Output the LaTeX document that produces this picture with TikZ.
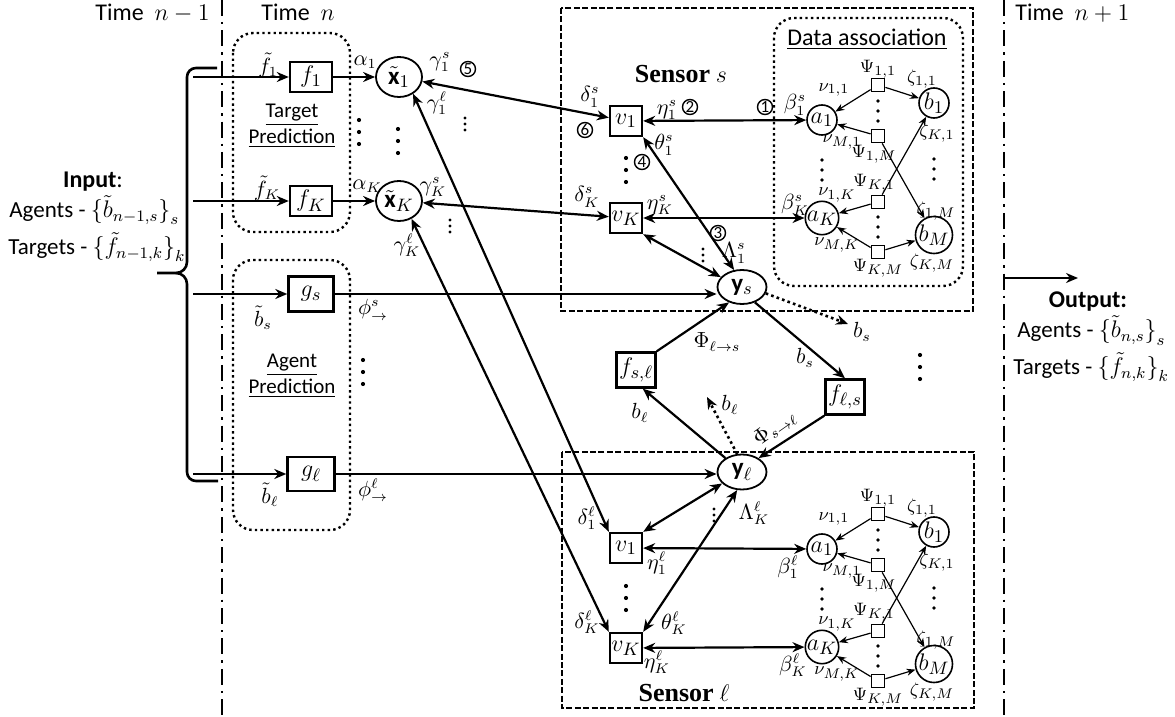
\documentclass[tikz,border=0pt]{standalone}
\usepackage{fontspec}
\setmainfont{Carlito}
\newfontfamily\sensorfont{Liberation Serif}
\usetikzlibrary{arrows.meta,shapes.geometric}
\begin{document}
\begin{tikzpicture}[x=0.5pt,y=-0.5pt,
  txt/.style={font=\fontsize{12}{14}\selectfont,inner sep=0pt},
  iotxt/.style={font=\fontsize{11.5}{13}\selectfont,inner sep=0pt},
  ptxt/.style={font=\fontsize{10.5}{12}\selectfont,inner sep=0pt},
  tbox/.style={draw,line width=1.2pt,inner sep=0.5pt,fill=white,font=\fontsize{13}{15}\selectfont},
  vnode/.style={ellipse,draw,line width=0.9pt,inner sep=0pt,minimum width=23pt,minimum height=20pt,fill=white,font=\fontsize{12.5}{14}\selectfont},
  danode/.style={circle,draw,line width=0.8pt,inner sep=0pt,minimum size=15pt,fill=white,font=\fontsize{12.5}{14}\selectfont},
  psi/.style={draw,line width=0.9pt,minimum size=6.5pt,inner sep=0pt,fill=white},
  lab/.style={font=\fontsize{10.5}{12}\selectfont,inner sep=0.5pt},
  slab/.style={font=\fontsize{9.5}{11}\selectfont,inner sep=0.3pt},
  arr/.style={line width=1.1pt,-{Stealth[length=6pt,width=5pt]}},
  darr/.style={line width=1.1pt,{Stealth[length=6pt,width=5pt]}-{Stealth[length=6pt,width=5pt]}},
  tarr/.style={line width=0.6pt,-{Stealth[length=4.5pt,width=3.5pt]}},
  dotarr/.style={line width=1.3pt,dash pattern=on 1.3pt off 1.6pt,-{Stealth[length=6pt,width=5pt]}},
  num/.style={circle,draw,line width=0.7pt,inner sep=0pt,minimum size=7.5pt,font=\fontsize{8.5}{9}\selectfont},
  dashdot/.style={line width=1.2pt,dash pattern=on 8pt off 3pt on 1.2pt off 3pt},
  sensbox/.style={line width=1pt,dash pattern=on 3pt off 1.2pt},
  predbox/.style={line width=1.2pt,dash pattern=on 1.2pt off 1.6pt,rounded corners=10pt},
  vd/.pic={\fill (0,-12) circle (1.05pt) (0,0) circle (1.05pt) (0,12) circle (1.05pt);},
  vdm/.pic={\fill (0,-10) circle (0.9pt) (0,0) circle (0.9pt) (0,10) circle (0.9pt);},
  vds/.pic={\fill (0,-6) circle (0.85pt) (0,0) circle (0.85pt) (0,6) circle (0.85pt);}
]
\useasboundingbox (0,0) rectangle (1175,717);

% time separators
\draw[dashdot] (222,0) -- (222,717);
\draw[dashdot] (1004,0) -- (1004,717);
\node[txt,anchor=base west] (t1) at (95,21) {Time\ \ $n-1$};
\node[txt,anchor=base west] (t2) at (261,21) {Time\ \ $n$};
\node[txt,anchor=base west] (t3) at (1015,21) {Time\ \ $n+1$};

% prediction boxes
\draw[predbox] (233,33) rectangle (350,232);
\draw[predbox] (233,260) rectangle (350,530);
\node[ptxt] (tp1) at (292,115) {\underline{Target}};
\node[ptxt] (tp2) at (292,138) {\underline{Prediction}};
\node[ptxt] (ap1) at (292,365) {\underline{Agent}};
\node[ptxt] (ap2) at (292,388) {\underline{Prediction}};

% sensor boxes
\draw[sensbox] (561,8) rectangle (973,311);
\draw[sensbox] (562,452) rectangle (974,708);
\draw[predbox] (774,18) rectangle (963,286);
\node[txt] (dat) at (867,39) {\underline{Data association}};
\node[inner sep=0pt,font=\fontsize{13}{15}\selectfont] (sens) at (681,74) {{\sensorfont\bfseries Sensor} $s$};
\node[inner sep=0pt,font=\fontsize{13}{15}\selectfont] (senl) at (684,693) {{\sensorfont\bfseries Sensor} $\ell$};

% input
\node[iotxt,font=\fontsize{12}{14}\selectfont\bfseries] (inp) at (93,182) {Input\textmd{:}};
\node[iotxt,anchor=base west] (inA) at (9,218) {Agents - $\big\{\tilde b_{n-1,s}\big\}_s$};
\node[iotxt,anchor=base west] (inT) at (8,255) {Targets - $\big\{\tilde f_{n-1,k}\big\}_k$};
\draw[line width=1.3pt] (217,68) -- (196,68) to[out=180,in=90] (187,77) -- (187,262)
  to[out=-90,in=0] (176,273) -- (157,273);
\draw[line width=1.3pt] (176,273) to[out=0,in=90] (187,284) -- (187,472)
  to[out=-90,in=180] (196,481) -- (218,481);

% output
\node[iotxt,font=\fontsize{12}{14}\selectfont\bfseries] (outp) at (1088,302) {Output:};
\node[iotxt,anchor=base west] (outA) at (1017,338) {Agents - $\big\{\tilde b_{n,s}\big\}_s$};
\node[iotxt,anchor=base west] (outT) at (1013,375) {Targets - $\big\{\tilde f_{n,k}\big\}_k$};
\coordinate (o1) at (1004,278);
\coordinate (o2) at (1078,278);
\draw[arr] (o1) -- (o2);

% main nodes
\node[tbox,minimum width=21pt,minimum height=15pt] (f1) at (311,77) {$f_1$};
\node[tbox,minimum width=21pt,minimum height=15pt] (fK) at (311,201) {$f_K$};
\node[tbox,minimum width=22.5pt,minimum height=17.5pt] (gs) at (311,294) {$g_s$};
\node[tbox,minimum width=23.5pt,minimum height=17pt] (gl) at (311,474) {$g_\ell$};
\node[vnode] (x1) at (399,77) {$\tilde{\mathbf{x}}_1$};
\node[vnode] (xK) at (399,201) {$\tilde{\mathbf{x}}_K$};
\node[tbox,minimum width=16pt,minimum height=15pt] (v1s) at (626,121) {$v_1$};
\node[tbox,minimum width=16pt,minimum height=15pt] (vKs) at (626,218) {$v_K$};
\node[tbox,minimum width=16pt,minimum height=15pt] (v1l) at (626,548) {$v_1$};
\node[tbox,minimum width=16pt,minimum height=15pt] (vKl) at (626,648) {$v_K$};
\node[vnode,minimum width=24.5pt,minimum height=17pt] (ys) at (742,287) {$\mathbf{y}_s$};
\node[vnode,minimum width=24.5pt,minimum height=17.5pt] (yl) at (742,472) {$\mathbf{y}_\ell$};
\node[tbox,minimum width=19.5pt,minimum height=17.5pt] (fsl) at (636,370) {$f_{s,\ell}$};
\node[tbox,minimum width=19.5pt,minimum height=17.5pt] (fls) at (845,397) {$f_{\ell,s}$};

% input arrows
\coordinate (i1) at (193,77);
\coordinate (i2) at (193,201);
\coordinate (i3) at (193,294);
\coordinate (i4) at (193,474);
\draw[arr] (i1) -- (f1.west);
\draw[arr] (i2) -- (fK.west);
\draw[arr] (i3) -- (gs.west);
\draw[arr] (i4) -- (gl.west);
\draw[arr] (f1) -- (x1);
\draw[arr] (fK) -- (xK);
\draw[arr] (gs.east) -- (gs.east -| ys.west);
\draw[arr] (gl.east) -- (gl.east -| yl.west);

% data association (both sensors)
\foreach \sn/\dy in {s/0,l/429}{
  \node[danode] (a1\sn) at (822,{120+\dy}) {$a_1$};
  \node[danode] (aK\sn) at (822,{218+\dy}) {$a_K$};
  \node[danode] (b1\sn) at (934,{103+\dy}) {$b_1$};
  \node[danode] (bM\sn) at (934,{235+\dy}) {$b_M$};
  \node[psi] (P11\sn) at (878,{85+\dy}) {};
  \node[psi] (P1M\sn) at (878,{136+\dy}) {};
  \node[psi] (PK1\sn) at (878,{202+\dy}) {};
  \node[psi] (PKM\sn) at (878,{252+\dy}) {};
  \draw[tarr] (P11\sn) -- (a1\sn);
  \draw[tarr] (P11\sn) -- (b1\sn);
  \draw[tarr] (P1M\sn) -- (a1\sn);
  \draw[tarr] (P1M\sn) -- (bM\sn);
  \draw[tarr] (PK1\sn) -- (aK\sn);
  \draw[tarr] (PK1\sn) -- (b1\sn);
  \draw[tarr] (PKM\sn) -- (aK\sn);
  \draw[tarr] (PKM\sn) -- (bM\sn);
  \node[slab] at (878,{69+\dy}) {$\Psi_{1,1}$};
  \node[slab] at (834,{90+\dy}) {$\nu_{1,1}$};
  \node[slab] at (922,{79+\dy}) {$\zeta_{1,1}$};
  \node[slab] at (842,{142+\dy}) {$\nu_{M,1}$};
  \node[slab] at (874,{154+\dy}) {$\Psi_{1,M}$};
  \node[slab] at (937,{133+\dy}) {$\zeta_{K,1}$};
  \node[slab] at (874,{183+\dy}) {$\Psi_{K,1}$};
  \node[slab] at (837,{195+\dy}) {$\nu_{1,K}$};
  \node[slab] at (936,{211+\dy}) {$\zeta_{1,M}$};
  \node[slab] at (837,{245+\dy}) {$\nu_{M,K}$};
  \node[slab] at (878,{268+\dy}) {$\Psi_{K,M}$};
  \node[slab] at (932,{263+\dy}) {$\zeta_{K,M}$};
  \pic at (878,{111+\dy}) {vdm};
  \pic at (822,{170+\dy}) {vdm};
  \pic at (934,{169+\dy}) {vdm};
  \pic at (878,{227+\dy}) {vdm};
}

% sensor s edges
\draw[darr] (v1s) -- (a1s);
\draw[darr] (vKs) -- (aKs);
\draw[darr] (x1) -- (v1s);
\draw[darr] (xK) -- (vKs);
\draw[darr] (v1s.south east) -- (ys.115);
\draw[darr] (vKs.south east) -- (ys.155);
% sensor l edges
\draw[darr] (v1l) -- (a1l);
\draw[darr] (vKl) -- (aKl);
\draw[darr] (x1.-50) -- (v1l.north west);
\draw[darr] (xK.-55) -- (vKl.north west);
\draw[darr] (v1l.north east) -- (yl.210);
\draw[darr] (vKl.north east) -- (yl.255);

% inter-sensor
\coordinate (bsend) at (848,324);
\coordinate (blend) at (707,397);
\draw[arr] (ys.-50) -- (fls.north);
\draw[dotarr] (ys.-15) -- (bsend);
\draw[arr] (fsl.north east) -- (ys.230);
\draw[arr] (yl.140) -- (fsl.-70);
\draw[dotarr] (yl.105) -- (blend);
\draw[arr] (fls.south west) -- (yl.40);

% dots
\pic at (359,132) {vd};
\pic at (398,141) {vd};
\pic at (465,124) {vds};
\pic at (450,226) {vds};
\pic at (626,170) {vd};
\pic at (703,255) {vds};
\pic at (363,372) {vd};
\pic at (920,367) {vd};
\pic at (714,515) {vds};
\pic at (626,598) {vd};

% circled numbers
\node[num] (n1) at (765,107) {1};
\node[num] (n2) at (690,107) {2};
\node[num] (n3) at (718,233) {3};
\node[num] (n4) at (642,162) {4};
\node[num] (n5) at (468,69) {5};
\node[num] (n6) at (585,130) {6};

% labels
\node[lab] at (268,65) {$\tilde f_1$};
\node[lab] at (267,188) {$\tilde f_K$};
\node[lab] at (263,318) {$\tilde b_s$};
\node[lab] at (270,495) {$\tilde b_\ell$};
\node[lab] at (365,62) {$\alpha_1$};
\node[lab] at (367,186) {$\alpha_K$};
\node[lab] at (373,310) {$\phi^s_\to$};
\node[lab] at (373,490) {$\phi^\ell_\to$};
\node[lab] at (440,62) {$\gamma_1^s$};
\node[lab] at (437,103) {$\gamma_1^\ell$};
\node[lab] at (433,187) {$\gamma_K^s$};
\node[lab] at (407,245) {$\gamma_K^\ell$};
\node[lab] at (590,97) {$\delta_1^s$};
\node[lab] at (587,197) {$\delta_K^s$};
\node[lab] at (667,110) {$\eta_1^s$};
\node[lab] at (660,205) {$\eta_K^s$};
\node[lab] at (664,145) {$\theta_1^s$};
\node[lab] at (734,253) {$\Lambda_1^s$};
\node[lab] at (795,105) {$\beta_1^s$};
\node[lab] at (795,205) {$\beta_K^s$};
\node[lab] at (717,342) {$\Phi_{\ell\to s}$};
\node[lab] at (805,358) {$b_s$};
\node[lab] at (862,332) {$b_s$};
\node[lab] at (640,413) {$b_\ell$};
\node[lab] at (730,405) {$b_\ell$};
\node[lab,rotate=35] at (775,428) {$\Phi_{s\to\ell}$};
\node[lab] at (587,518) {$\delta_1^\ell$};
\node[lab] at (587,622) {$\delta_K^\ell$};
\node[lab] at (657,563) {$\eta_1^\ell$};
\node[lab] at (657,662) {$\eta_K^\ell$};
\node[lab] at (754,513) {$\Lambda_K^\ell$};
\node[lab] at (674,623) {$\theta_K^\ell$};
\node[lab] at (788,567) {$\beta_1^\ell$};
\node[lab] at (793,665) {$\beta_K^\ell$};
\end{tikzpicture}
\end{document}
